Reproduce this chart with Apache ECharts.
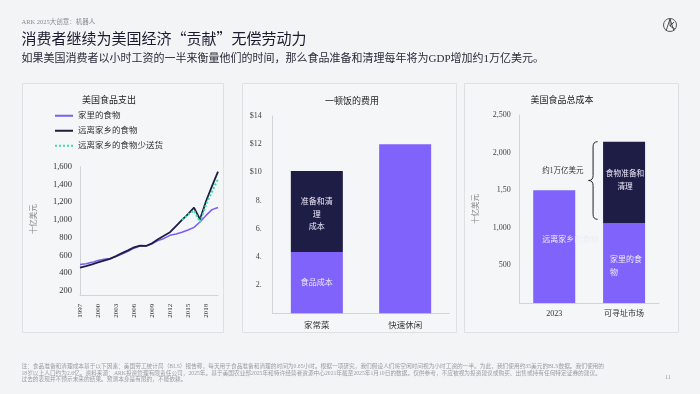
<!DOCTYPE html>
<html><head><meta charset="utf-8">
<script src="https://cdn.jsdelivr.net/npm/echarts@6/dist/echarts.min.js"></script>
<style>html,body{margin:0;padding:0;background:#f3f4f6}#c{width:700px;height:394px}</style>
</head><body><div id="c"></div>
<script>
// ---- Panel 1: US food spending (billions USD)
const years = ['1997','1998','1999','2000','2001','2002','2003','2004','2005','2006','2007','2008','2009','2010','2011','2012','2013','2014','2015','2016','2017','2018','2019','2020'];
const foodAtHome = [495,505,520,540,555,565,585,615,645,680,705,705,730,765,790,825,840,860,885,915,975,1050,1115,1140];
const foodAwayFromHome = [460,478,498,520,540,560,590,625,655,690,710,705,735,780,820,860,930,1000,1065,1137,1005,1210,1380,1545];
const foodAwayLessDelivery = [null,null,null,null,null,null,null,null,null,null,null,null,null,null,null,null,null,1000,1060,1105,975,1170,1320,1460];
const spendTicks = [200,400,600,800,1000,1200,1400,1600];

// ---- Panel 2: cost of a meal (USD)
const mealCategories = ['家常菜','快速休闲'];
const homeFoodCost = [4.35, null];
const homePrepCost = [5.75, null];
const fastCasualCost = [null, 12];
const mealTicks = [0,2,4,6,8,10,12,14];
const mealTickLabels = ['', '2.', '4.', '6.', '8.', '$10', '$12', '$14'];

// ---- Panel 3: total US food cost (billions USD)
const totalCategories = ['2023','可寻址市场'];
const awayTotal = [1500, null];
const atHomeTotal = [null, 1060];
const prepTotal = [null, 1085];
const totalTicks = [0,500,1000,1500,2000,2500];
const totalTickLabels = ['', '500', '1,000', '1,50', '2,000', '2,500'];

const FONT = '"Liberation Serif", "Noto Sans CJK SC", serif';
const CJK = '"Noto Sans CJK SC", sans-serif';
const PURPLE = '#7f63fb';
const LINE_PURPLE = '#7b5df2';
const NAVY = '#1e1d45';
const GREEN = '#36dfa6';
const AXIS = '#d2d3d8';
const INBAR = '#ece9fb';
const DOTS = 'path://M0 0h2v2H0z M4 0h2v2H4z M8 0h2v2H8z M12 0h2v2h-2z M16 0h2v2h-2z';

function fmtThousands(v){ return v >= 1000 ? Math.floor(v/1000) + ',' + String(v%1000).padStart(3,'0') : String(v); }

const chart = echarts.init(document.getElementById('c'), null, {renderer:'canvas'});

const option = {
  backgroundColor: '#f3f4f6',
  animation: false,
  textStyle: {fontFamily: FONT},
  title: [
    {text: '美国食品支出', left: 77, top: 91, textStyle: {fontSize: 9, fontWeight: 'normal', color: '#222', fontFamily: FONT}},
    {text: '一顿饭的费用', left: 347, top: 92, textAlign: 'center', textStyle: {fontSize: 9, fontWeight: 'normal', color: '#222', fontFamily: FONT}},
    {text: '美国食品总成本', left: 557, top: 91, textAlign: 'center', textStyle: {fontSize: 9, fontWeight: 'normal', color: '#222', fontFamily: FONT}}
  ],
  legend: {
    data: [
      {name: '家里的食物', icon: 'rect'},
      {name: '远离家乡的食物', icon: 'rect'},
      {name: '远离家乡的食物少送货', icon: DOTS}
    ],
    orient: 'vertical', left: 55, top: 111.5, padding: 0,
    itemWidth: 18, itemHeight: 2, itemGap: 6.5,
    textStyle: {fontSize: 8.5, color: '#333', fontFamily: FONT}
  },
  grid: [
    {left: 80, right: 482, top: 166.7, bottom: 98.3},
    {left: 272.7, right: 250.7, top: 116, bottom: 80.7},
    {left: 519.3, right: 41, top: 115, bottom: 91}
  ],
  xAxis: [
    {gridIndex: 0, type: 'category', data: years, boundaryGap: false,
     axisLine: {lineStyle: {color: AXIS}}, axisTick: {show: false},
     axisLabel: {interval: 2, rotate: 90, fontSize: 7, color: '#333', margin: 8, fontFamily: FONT}},
    {gridIndex: 1, type: 'category', data: mealCategories,
     axisLine: {lineStyle: {color: AXIS}}, axisTick: {show: false},
     axisLabel: {fontSize: 8.5, color: '#333', margin: 8, fontFamily: FONT}},
    {gridIndex: 2, type: 'category', data: totalCategories,
     axisLine: {lineStyle: {color: AXIS}}, axisTick: {show: false},
     axisLabel: {fontSize: 8, color: '#333', margin: 7, fontFamily: FONT}}
  ],
  yAxis: [
    {gridIndex: 0, type: 'value', min: 143.5, max: 1600,
     name: '十亿美元', nameLocation: 'middle', nameGap: 42,
     nameTextStyle: {fontSize: 7.5, color: '#888', fontFamily: FONT, padding: [0,0,0,24]},
     axisLine: {show: true, lineStyle: {color: AXIS}}, axisTick: {show: false}, splitLine: {show: false},
     axisLabel: {customValues: spendTicks, formatter: fmtThousands, fontSize: 8.5, color: '#333', margin: 8, fontFamily: FONT}},
    {gridIndex: 1, type: 'value', min: 0, max: 14, interval: 2,
     axisLine: {show: true, lineStyle: {color: AXIS}}, axisTick: {show: false}, splitLine: {show: false},
     axisLabel: {formatter: v => mealTickLabels[mealTicks.indexOf(v)] || '', fontSize: 8, color: '#444', margin: 11, fontFamily: FONT}},
    {gridIndex: 2, type: 'value', min: 0, max: 2500, interval: 500,
     name: '十亿美元', nameLocation: 'middle', nameGap: 40,
     nameTextStyle: {fontSize: 7.5, color: '#888', fontFamily: FONT},
     axisLine: {show: true, lineStyle: {color: AXIS}}, axisTick: {show: false}, splitLine: {show: false},
     axisLabel: {formatter: v => totalTickLabels[totalTicks.indexOf(v)] || '', fontSize: 8, color: '#444', margin: 8.5, fontFamily: FONT}}
  ],
  series: [
    {name: '家里的食物', type: 'line', xAxisIndex: 0, yAxisIndex: 0, data: foodAtHome, symbol: 'none',
     lineStyle: {color: LINE_PURPLE, width: 1.5}, itemStyle: {color: LINE_PURPLE}, z: 2},
    {name: '远离家乡的食物', type: 'line', xAxisIndex: 0, yAxisIndex: 0, data: foodAwayFromHome, symbol: 'none',
     lineStyle: {color: NAVY, width: 1.8}, itemStyle: {color: NAVY}, z: 3},
    {name: '远离家乡的食物少送货', type: 'line', xAxisIndex: 0, yAxisIndex: 0, data: foodAwayLessDelivery, symbol: 'none',
     lineStyle: {color: GREEN, width: 2, type: [2, 2]}, itemStyle: {color: GREEN}, z: 4},

    {name: '食品成本', type: 'bar', xAxisIndex: 1, yAxisIndex: 1, stack: 'meal', data: homeFoodCost, barWidth: 52,
     itemStyle: {color: PURPLE},
     label: {show: true, position: 'inside', formatter: '食品成本', color: INBAR, fontSize: 8, fontFamily: FONT}},
    {name: '准备和清理成本', type: 'bar', xAxisIndex: 1, yAxisIndex: 1, stack: 'meal', data: homePrepCost, barWidth: 52,
     itemStyle: {color: NAVY},
     label: {show: true, position: 'inside', formatter: '准备和清\n理\n成本', color: INBAR, fontSize: 8, lineHeight: 12.5, fontFamily: FONT, offset: [0, 3]}},
    {name: '快速休闲', type: 'bar', xAxisIndex: 1, yAxisIndex: 1, stack: 'meal', data: fastCasualCost, barWidth: 52,
     itemStyle: {color: PURPLE}},

    {name: '远离家乡的食物', type: 'bar', xAxisIndex: 2, yAxisIndex: 2, stack: 'total', data: awayTotal, barWidth: 42,
     itemStyle: {color: PURPLE},
     label: {show: true, position: [9, 50], align: 'left', verticalAlign: 'middle', formatter: '远离家乡的食物', color: '#eeecf8', fontSize: 8, fontFamily: FONT}},
    {name: '家里的食物', type: 'bar', xAxisIndex: 2, yAxisIndex: 2, stack: 'total', data: atHomeTotal, barWidth: 42,
     itemStyle: {color: PURPLE},
     label: {show: true, position: [7, 43], align: 'left', verticalAlign: 'middle', formatter: '{a}', width: 34, overflow: 'break', lineHeight: 12.5, color: INBAR, fontSize: 8, fontFamily: FONT}},
    {name: '食物准备和清理', type: 'bar', xAxisIndex: 2, yAxisIndex: 2, stack: 'total', data: prepTotal, barWidth: 42,
     itemStyle: {color: NAVY},
     label: {show: true, position: 'inside', formatter: '{a}', width: 40, overflow: 'break', lineHeight: 13, color: INBAR, fontSize: 7.7, fontFamily: FONT, offset: [1, -2]}}
  ],
  graphic: [
    {type: 'rect', shape: {x: 22.5, y: 83.5, width: 201, height: 249}, style: {fill: '#f5f6f8', stroke: '#dfe0e4', lineWidth: 1}, z: -10, silent: true},
    {type: 'rect', shape: {x: 242.5, y: 83.5, width: 214, height: 249}, style: {fill: '#f5f6f8', stroke: '#dfe0e4', lineWidth: 1}, z: -10, silent: true},
    {type: 'rect', shape: {x: 464.5, y: 83.5, width: 214, height: 249}, style: {fill: '#f5f6f8', stroke: '#dfe0e4', lineWidth: 1}, z: -10, silent: true},
    {type: 'text', left: 21.5, top: 19, style: {text: 'ARK 2025大创意：机器人', fontSize: 6.5, fill: '#8a8a90', fontFamily: FONT}},
    {type: 'text', left: 21.5, top: 30.5, style: {text: '消费者继续为美国经济“贡献”无偿劳动力', fontSize: 15, fill: '#1b1b2e', fontFamily: CJK}},
    {type: 'text', left: 21.5, top: 54, style: {text: '如果美国消费者以小时工资的一半来衡量他们的时间，那么食品准备和清理每年将为GDP增加约1万亿美元。', fontSize: 11, fill: '#2a2a38', fontFamily: FONT}},
    {type: 'group', left: 661, top: 16, children: [
      {type: 'circle', shape: {cx: 7, cy: 7, r: 6.5}, style: {fill: 'none', stroke: '#444', lineWidth: 0.9}},
      {type: 'polyline', shape: {points: [[3, 13], [7, 1], [11, 13]]}, style: {fill: 'none', stroke: '#444', lineWidth: 0.9}},
      {type: 'polyline', shape: {points: [[7, 1], [7, 8], [11, 4], [7, 8], [12, 11]]}, style: {fill: 'none', stroke: '#444', lineWidth: 0.9}}
    ]},
    {type: 'text', left: 21.5, top: 364, style: {text: '注：食品准备和清理成本基于以下因素：美国劳工统计局（BLS）报告称，每天用于食品准备和清理的时间为0.65小时。根据一项研究，我们假设人们将空闲时间视为小时工资的一半。为此，我们使用约35美元的BLS数据。我们使用的', fontSize: 5.7, fill: '#9a9aa2', fontFamily: FONT}},
    {type: 'text', left: 21.5, top: 370.5, style: {text: '18岁以上人口约为2.6亿。资料来源：ARK投资管理有限责任公司，2025年。基于美国农业部2025年和特许经营者资源中心2021年截至2025年1月10日的数据。仅供参考，不应被视为投资建议或购买、出售或持有任何特定证券的建议。', fontSize: 5.7, fill: '#9a9aa2', fontFamily: FONT}},
    {type: 'text', left: 21.5, top: 377, style: {text: '过去的表现并不预示未来的结果。预测本身是有限的，不能依赖。', fontSize: 5.7, fill: '#9a9aa2', fontFamily: FONT}},
    {type: 'text', left: 665, top: 374, style: {text: '11', fontSize: 6, fill: '#9a9aa2', fontFamily: FONT}}
  ]
};
chart.setOption(option);

// Brace annotation tied to the addressable-market prep segment
const topPt = chart.convertToPixel({xAxisIndex: 2, yAxisIndex: 2}, [1, atHomeTotal[1] + prepTotal[1]]);
const midPt = chart.convertToPixel({xAxisIndex: 2, yAxisIndex: 2}, [1, atHomeTotal[1]]);
const xr = topPt[0] - 21 - 5.5, xl = xr - 9, xm = (xl + xr) / 2;
const y1 = topPt[1], y2 = midPt[1] - 4, ym = (y1 + y2) / 2, r = 5;
const bs = {fill: 'none', stroke: '#222', lineWidth: 1};
const g = option.graphic.slice();
g.push({type: 'bezierCurve', shape: {x1: xr, y1: y1, x2: xm, y2: y1 + r, cpx1: xm, cpy1: y1}, style: bs});
g.push({type: 'line', shape: {x1: xm, y1: y1 + r, x2: xm, y2: ym - r}, style: bs});
g.push({type: 'bezierCurve', shape: {x1: xm, y1: ym - r, x2: xl, y2: ym, cpx1: xm, cpy1: ym}, style: bs});
g.push({type: 'bezierCurve', shape: {x1: xl, y1: ym, x2: xm, y2: ym + r, cpx1: xm, cpy1: ym}, style: bs});
g.push({type: 'line', shape: {x1: xm, y1: ym + r, x2: xm, y2: y2 - r}, style: bs});
g.push({type: 'bezierCurve', shape: {x1: xm, y1: y2 - r, x2: xr, y2: y2, cpx1: xm, cpy1: y2}, style: bs});
g.push({type: 'text', x: xl - 5, y: ym - 9, style: {text: '约1万亿美元', fontSize: 7.5, fill: '#333', align: 'right', verticalAlign: 'middle', fontFamily: FONT}});
chart.setOption({graphic: g});
</script>
</body></html>
